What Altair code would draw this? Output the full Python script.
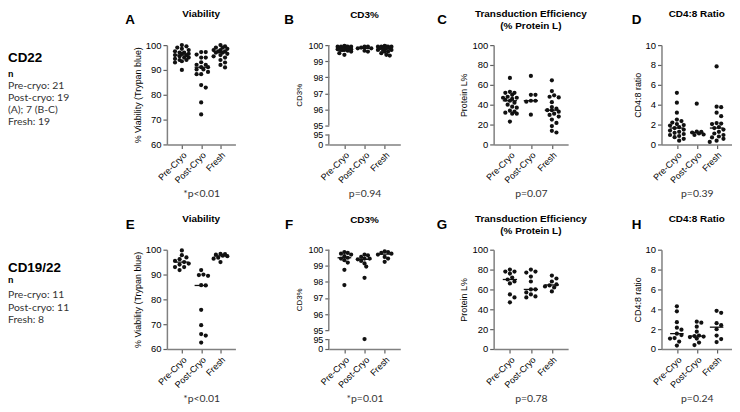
import math
import altair as alt
import pandas as pd

GROUPS = ["Pre-Cryo", "Post-Cryo", "Fresh"]

# ---------------- CD22 (row 1) ----------------
A_pre = [100, 99.5, 99, 98.5, 98, 97.5, 97, 97, 96.5, 96.5, 96, 96, 95.5, 95, 95, 94.5, 94, 94, 93.5, 93, 90]
A_post = [97.2, 97.2, 96.2, 95.0, 95.0, 93.1, 92.1, 92.1, 91.1, 91.1, 90.2, 90.2, 89.2, 88.3, 88.3, 83.9, 82.9, 76.9, 72.1]
A_fresh = [100, 99.5, 99, 99, 98.5, 98, 98, 97.5, 97.5, 97, 97, 96.5, 96, 95.5, 95, 94, 93, 92, 91]

B_pre = [99.95, 99.9, 99.9, 99.9, 99.9, 99.9, 99.85, 99.8, 99.8, 99.8, 99.8, 99.8, 99.75, 99.75, 99.7, 99.7, 99.7, 99.65, 99.6, 99.5, 99.4]
B_post = [99.9, 99.9, 99.85, 99.8, 99.8, 99.65, 99.6]
B_fresh = [99.95, 99.9, 99.9, 99.9, 99.9, 99.9, 99.85, 99.8, 99.8, 99.8, 99.8, 99.7, 99.7, 99.7, 99.6, 99.6, 99.5, 99.4, 99.35]

C_pre = [67, 53, 52, 52, 50, 48, 47, 47, 46, 45, 44, 42, 40, 38, 37, 34, 33, 32, 31, 31, 23]
C_post = [69, 50, 50, 44, 44, 43, 30]
C_fresh = [64.5, 53.7, 49.5, 48, 47.3, 42.5, 37.7, 36, 34.5, 34.5, 33, 31, 29.7, 28, 25, 21.7, 18.5, 13.7, 12]

D_pre = [5.2, 4.2, 3.2, 2.5, 2.35, 2.2, 2.05, 1.95, 1.9, 1.75, 1.65, 1.5, 1.4, 1.27, 1.17, 1.05, 0.95, 0.85, 0.73, 0.57, 0.38]
D_post = [4.1, 1.3, 1.27, 1.2, 1.1, 1.0, 0.95]
D_fresh = [7.85, 3.8, 3.75, 3.2, 2.85, 2.15, 2.1, 2.05, 1.75, 1.65, 1.5, 1.27, 1.1, 0.95, 0.8, 0.7, 0.57, 0.38, 0.25]

# ---------------- CD19/22 (row 2) ----------------
E_pre = [99.7, 97.8, 96.9, 96.2, 95.5, 95.0, 94.4, 94.0, 93.0, 93.0, 91.8]
E_post = [91.8, 90.0, 89.8, 89.5, 85.7, 85.6, 75.8, 69.6, 66.0, 65.4, 62.6]
E_fresh = [98.3, 98.2, 98.0, 97.6, 97.4, 96.8, 96.4, 95.0]

F_pre = [99.85, 99.8, 99.75, 99.7, 99.6, 99.5, 99.45, 99.35, 99.2, 98.75, 97.8]
F_post = [99.7, 99.65, 99.55, 99.45, 99.45, 99.4, 99.3, 99.15, 98.95, 98.25, 94.8]
F_fresh = [99.9, 99.85, 99.8, 99.75, 99.7, 99.55, 99.45, 99.25]

G_pre = [80, 78, 78, 76, 72, 70, 68, 66, 55, 52, 47]
G_post = [80, 78, 77, 73, 68, 60, 60, 57, 55, 53, 52]
G_fresh = [74, 71, 68, 65, 64, 63, 62, 58]

H_pre = [4.3, 3.8, 2.7, 2.15, 1.95, 1.55, 1.4, 1.1, 1.05, 0.75, 0.35]
H_post = [2.75, 2.65, 2.25, 1.75, 1.35, 1.3, 1.25, 1.2, 1.05, 0.65, 0.4]
H_fresh = [3.85, 3.65, 2.6, 2.4, 2.0, 1.35, 1.0, 0.7]

ROW_LABELS = ["CD22", "CD19/22"]
ROW_COUNTS = [
    ["Pre-cryo: 21", "Post-cryo: 19", "(A); 7 (B-C)", "Fresh: 19"],
    ["Pre-cryo: 11", "Post-cryo: 11", "Fresh: 8"],
]
ROW_LETTERS = [["A", "B", "C", "D"], ["E", "F", "G", "H"]]

TITLES = {
    "via": ["Viability"],
    "cd3": ["CD3%"],
    "prot": ["Transduction Efficiency", "(% Protein L)"],
    "ratio": ["CD4:8 Ratio"],
}
Y_TITLES = {
    "via": "% Viability (Trypan blue)",
    "cd3": "CD3%",
    "prot": "Protein  L%",
    "ratio": "CD4:8 ratio",
}
P_VALUES = {"A": "*p<0.01", "B": "p=0.94", "C": "p=0.07", "D": "p=0.39",
            "E": "*p<0.01", "F": "*p=0.01", "G": "p=0.78", "H": "p=0.24"}

PH = 100                       # plot height
TEXT_W = 66                    # width of the left text column
COL_GAP = 94
ROW_GAP = 106
COL_W = [69, 72, 75, 71]       # plot widths per column
LETTER_DX = [-37, -40, -52, -25]
XDOM = [-0.775, 2.775]
FONT = "Liberation Sans"
LABEL_EXPR = "[" + ",".join("'%s'" % g for g in GROUPS) + "][datum.value]"
BREAK_RANGE = [PH, 90, 81, 0]  # pixel positions of 0 | 95 (low) | 95 (high) | 100

# left edge of each panel relative to the text column's origin
COL_LEFT = []
_x = TEXT_W + COL_GAP
for _w in COL_W:
    COL_LEFT.append(_x)
    _x += _w + COL_GAP


def swarm(vals, ypu, xpu, d=4.6, cap=8.0):
    """Deterministic beeswarm offsets (in x data units)."""
    order = sorted(range(len(vals)), key=lambda i: -vals[i])
    cands = [0.0]
    k = 1
    while k * d / 2 <= cap + 1e-9:
        cands += [k * d / 2, -k * d / 2]
        k += 1
    placed, offs = [], [0.0] * len(vals)
    for i in order:
        y = vals[i] * ypu
        chosen, best_c, best_s = None, 0.0, -1.0
        for c in cands:
            m = min((math.hypot(c - px, y - py) for px, py in placed), default=1e9)
            if m >= d:
                chosen = c
                break
            if m > best_s:
                best_s, best_c = m, c
        if chosen is None:
            chosen = best_c
        placed.append((chosen, y))
        offs[i] = chosen / xpu
    return offs


def panel(letter, kind, series, col):
    width = COL_W[col]
    xpu = width / (XDOM[1] - XDOM[0])
    if kind == "via":
        ydom, yvals, ypu = [60, 100], [60, 70, 80, 90, 100], PH / 40
    elif kind == "prot":
        ydom, yvals, ypu = [0, 100], [0, 20, 40, 60, 80, 100], PH / 100
    elif kind == "ratio":
        ydom, yvals, ypu = [0, 10], [0, 2, 4, 6, 8, 10], PH / 10
    else:
        ydom, yvals = [0, 94.99, 95, 100], [0, 94.99, 95, 96, 97, 98, 99, 100]
        ypu = BREAK_RANGE[2] / 5

    rows = []
    for gi, vals in enumerate(series):
        offs = swarm(vals, ypu, xpu, d=(3.4 if kind == "cd3" else 4.6))
        for v, o in zip(vals, offs):
            rows.append({"g": gi, "value": v, "xs": gi + o})
    df = pd.DataFrame(rows)

    xscale = alt.Scale(domain=XDOM, nice=False, zero=False)
    xaxis = alt.Axis(values=[0, 1, 2], labelExpr=LABEL_EXPR, labelAngle=-45,
                     labelAlign="right", labelBaseline="top", labelOverlap=False,
                     labelFontSize=9, labelFlush=False,
                     title=P_VALUES[letter], titleFont="Lato", titleFontSize=10.5,
                     titleColor="#333", titlePadding=4, titleFontWeight="normal")
    if kind == "cd3":
        yscale = alt.Scale(domain=ydom, range=BREAK_RANGE, nice=False, zero=False)
        yaxis = alt.Axis(values=yvals, format="d", domain=False, labelOverlap=False,
                         labelFontSize=9, title=Y_TITLES[kind], titleFontSize=8,
                         titlePadding=4)
    else:
        yscale = alt.Scale(domain=ydom, nice=False, zero=False)
        yaxis = alt.Axis(values=yvals, labelOverlap=False, title=Y_TITLES[kind],
                         titlePadding=3)

    base = alt.Chart(df)
    med = base.transform_aggregate(
        med="median(value)", groupby=["g"]
    ).transform_calculate(
        x1="datum.g - 0.34", x2="datum.g + 0.34"
    ).mark_rule(color="#111", strokeWidth=1.3).encode(
        x=alt.X("x1:Q", scale=xscale, axis=xaxis), x2="x2:Q",
        y=alt.Y("med:Q", scale=yscale, axis=yaxis),
    )
    pts = base.mark_circle(size=18, color="#111", opacity=1).encode(
        x=alt.X("xs:Q", scale=xscale, axis=xaxis),
        y=alt.Y("value:Q", scale=yscale, axis=yaxis),
    )
    layers = [med, pts]
    if kind == "cd3":
        seg = alt.Chart(pd.DataFrame({"y1": [0, 95], "y2": [94.99, 100]})).mark_rule(
            color="#808080", strokeWidth=1.5
        ).encode(x=alt.value(0), y=alt.Y("y1:Q", scale=yscale, axis=yaxis), y2="y2:Q")
        layers = [seg] + layers
    title_lines = TITLES[kind]
    offset = 9 if len(title_lines) > 1 else 21
    return alt.layer(*layers).properties(
        width=width, height=PH,
        title=alt.TitleParams(text=title_lines, offset=offset, lineHeight=12),
    )


def text_cell(r, y_label, y_n, y_lines):
    l1 = alt.Chart(pd.DataFrame({"t": [ROW_LABELS[r]]})).mark_text(
        font=FONT, fontSize=13.5, fontWeight="bold", color="#000",
        align="left", baseline="middle",
    ).encode(text="t:N", x=alt.value(0), y=alt.value(y_label))
    l2 = alt.Chart(pd.DataFrame({"t": ["n"]})).mark_text(
        font=FONT, fontSize=9, fontWeight="bold", color="#000",
        align="left", baseline="middle",
    ).encode(text="t:N", x=alt.value(0), y=alt.value(y_n))
    l3 = alt.Chart(pd.DataFrame({"t": ["\n".join(ROW_COUNTS[r])]})).mark_text(
        font="Lato", fontSize=10.5, color="#333", align="left", baseline="top",
        lineBreak="\n", lineHeight=12.3,
    ).encode(text="t:N", x=alt.value(0), y=alt.value(y_lines))
    layers = [l1, l2, l3]
    # panel letters (A-D / E-H) sit in the gutters left of each panel
    for c, letter in enumerate(ROW_LETTERS[r]):
        layers.append(alt.Chart(pd.DataFrame({"t": [letter]})).mark_text(
            font=FONT, fontSize=13.5, fontWeight="bold", color="#000",
            align="center", baseline="middle",
        ).encode(text="t:N", x=alt.value(COL_LEFT[c] + LETTER_DX[c]), y=alt.value(-25)))
    return alt.layer(*layers).properties(width=TEXT_W, height=PH)


cells = [
    text_cell(0, 13, 29, 36),
    panel("A", "via", (A_pre, A_post, A_fresh), 0),
    panel("B", "cd3", (B_pre, B_post, B_fresh), 1),
    panel("C", "prot", (C_pre, C_post, C_fresh), 2),
    panel("D", "ratio", (D_pre, D_post, D_fresh), 3),
    text_cell(1, 18, 31, 41),
    panel("E", "via", (E_pre, E_post, E_fresh), 0),
    panel("F", "cd3", (F_pre, F_post, F_fresh), 1),
    panel("G", "prot", (G_pre, G_post, G_fresh), 2),
    panel("H", "ratio", (H_pre, H_post, H_fresh), 3),
]

chart = alt.concat(
    *cells, columns=5, bounds="flush",
    spacing=alt.RowColnumber(row=ROW_GAP, column=COL_GAP),
).properties(
    padding=0, background="white",
).configure_view(
    stroke=None,
).configure_axis(
    domainColor="#808080", domainWidth=1.5, tickColor="#606060", tickWidth=1.2,
    tickSize=4, labelFont=FONT, labelFontSize=9.5, labelColor="#000",
    labelPadding=2, titleFont=FONT, titleFontSize=9, titleFontWeight="normal",
    titleColor="#000", grid=False,
).configure_title(
    font=FONT, fontSize=10, fontWeight="bold", color="#000", anchor="middle",
)

chart.save("out.html", embed_options={"renderer": "svg", "actions": False})
